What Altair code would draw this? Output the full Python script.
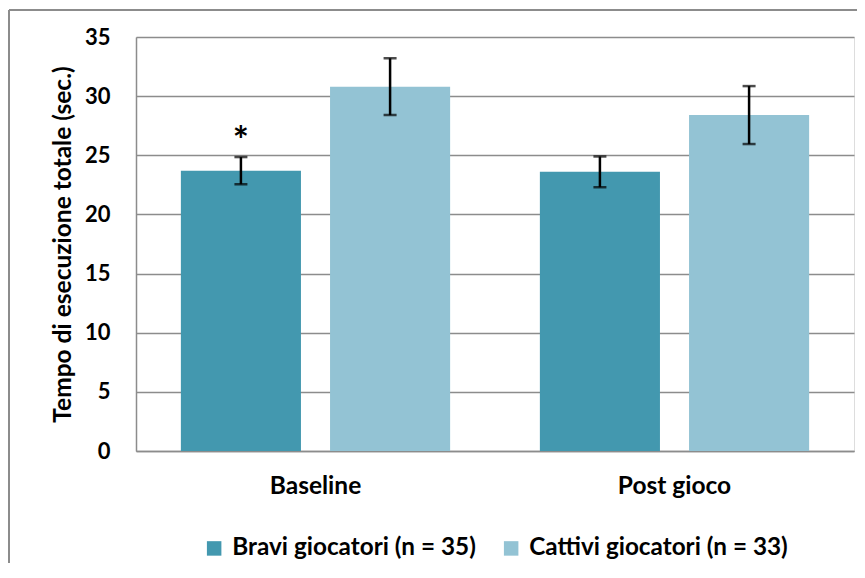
import altair as alt
import pandas as pd

categories = ["Baseline", "Post gioco"]
groups = ["Bravi giocatori (n = 35)", "Cattivi giocatori (n = 33)"]
bravi_mean = [23.7, 23.6]
bravi_err = [1.15, 1.3]
cattivi_mean = [30.8, 28.4]
cattivi_err = [2.4, 2.45]
colors = ["#4398AF", "#93C3D4"]
star_category = "Baseline"
star_group = groups[0]
star_value = 26.7

rows = []
for i, c in enumerate(categories):
    rows.append({"cat": c, "grp": groups[0], "mean": bravi_mean[i],
                 "lo": bravi_mean[i] - bravi_err[i], "hi": bravi_mean[i] + bravi_err[i]})
    rows.append({"cat": c, "grp": groups[1], "mean": cattivi_mean[i],
                 "lo": cattivi_mean[i] - cattivi_err[i], "hi": cattivi_mean[i] + cattivi_err[i]})
df = pd.DataFrame(rows)

FONT = "Lato"

x_enc = alt.X("cat:N", sort=categories, title=None,
              scale=alt.Scale(paddingInner=0.25, paddingOuter=0.125),
              axis=alt.Axis(labelAngle=0, labelFont=FONT, labelFontWeight="bold",
                            labelFontSize=24.5, labelColor="#000000", labelPadding=23,
                            ticks=False, domainColor="#8c8c8c", domainWidth=1.5))
xo_enc = alt.XOffset("grp:N", sort=groups,
                     scale=alt.Scale(paddingInner=0.195, paddingOuter=0))
y_scale = alt.Scale(domain=[0, 35], nice=False)

base = alt.Chart(df)

bars = base.mark_bar().encode(
    x=x_enc,
    xOffset=xo_enc,
    y=alt.Y("mean:Q", scale=y_scale,
            title="Tempo di esecuzione totale (sec.)",
            axis=alt.Axis(values=[0, 5, 10, 15, 20, 25, 30, 35], ticks=False,
                          labelFont=FONT, labelFontWeight="bold", labelFontSize=22,
                          labelColor="#000000", labelPadding=26,
                          titleFont=FONT, titleFontWeight="bold", titleFontSize=24.5,
                          titleColor="#000000", titlePadding=9,
                          domainColor="#8c8c8c", domainWidth=1.5,
                          gridColor="#8c8c8c", gridWidth=1.5)),
    color=alt.Color("grp:N", sort=groups,
                    scale=alt.Scale(domain=groups, range=colors),
                    legend=alt.Legend(title=None, orient="none", direction="horizontal",
                                      legendX=66, legendY=499, symbolType="square",
                                      symbolSize=210, symbolStrokeWidth=0,
                                      labelFont=FONT, labelFontWeight="bold",
                                      labelFontSize=24.3, labelColor="#000000",
                                      labelLimit=0,
                                      labelOffset=6, columnPadding=23, padding=0)),
)

err = base.mark_rule(color="#000000", strokeWidth=2.5).encode(
    x=alt.X("cat:N", sort=categories), xOffset=alt.XOffset("grp:N", sort=groups),
    y="lo:Q", y2="hi:Q")
cap_lo = base.mark_tick(color="#000000", size=13, thickness=2.5, orient="horizontal").encode(
    x=alt.X("cat:N", sort=categories), xOffset=alt.XOffset("grp:N", sort=groups),
    y="lo:Q")
cap_hi = base.mark_tick(color="#000000", size=13, thickness=2.5, orient="horizontal").encode(
    x=alt.X("cat:N", sort=categories), xOffset=alt.XOffset("grp:N", sort=groups),
    y="hi:Q")

star_df = pd.DataFrame({"cat": [star_category], "grp": [star_group], "v": [star_value], "t": ["*"]})
star = alt.Chart(star_df).mark_text(font=FONT, fontWeight="bold", fontSize=38,
                                     baseline="middle", color="#000000", dy=8).encode(
    x=alt.X("cat:N", sort=categories), xOffset=alt.XOffset("grp:N", sort=groups),
    y=alt.Y("v:Q"), text="t:N")

one = pd.DataFrame({"a": [0]})
border_top = alt.Chart(one).mark_rule(color="#8c8c8c", strokeWidth=2).encode(
    x=alt.value(-127), x2=alt.value(740), y=alt.value(-27))
border_left = alt.Chart(one).mark_rule(color="#8c8c8c", strokeWidth=2).encode(
    x=alt.value(-127), y=alt.value(-27), y2=alt.value(600))

chart = alt.layer(bars, err, cap_lo, cap_hi, star, border_top, border_left).properties(
    width=718, height=414,
    autosize=alt.AutoSizeParams(type="none"),
    padding={"left": 128, "top": 29, "right": 3, "bottom": 112},
).configure_view(stroke=None).configure(background="#ffffff")

chart.save("out.html", embed_options={"renderer": "svg", "actions": False})
